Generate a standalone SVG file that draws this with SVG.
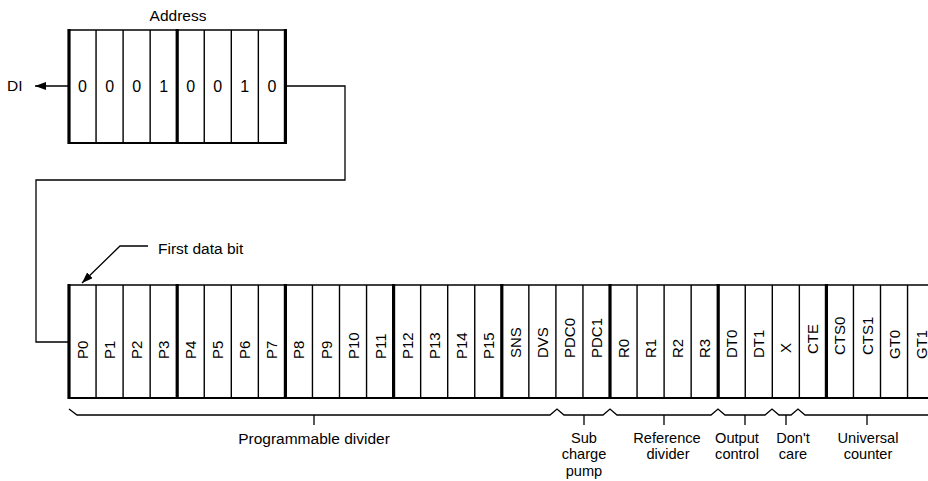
<svg xmlns="http://www.w3.org/2000/svg" width="928" height="481" viewBox="0 0 928 481">
<style>
text{font-family:"Liberation Sans",Arial,sans-serif;fill:#000}
.lbl{font-size:15.5px;text-anchor:middle}
.grp{font-size:14.6px;text-anchor:middle}
.dig{font-size:16px;text-anchor:middle}
.rot{font-size:15px}
.thin{stroke:#000;stroke-width:1.4;fill:none}
.thick{stroke:#000;stroke-width:3.2;fill:none}
.edge{stroke:#000;stroke-width:2;fill:none}
.wire{stroke:#000;stroke-width:1.3;fill:none}
</style>
<defs>
<marker id="ah" viewBox="0 0 11 8" refX="11" refY="4" markerWidth="11" markerHeight="8" markerUnits="userSpaceOnUse" orient="auto">
<path d="M0,0 L11,4 L0,8 Z" fill="#000"/>
</marker>
</defs>
<rect width="928" height="481" fill="#fff"/>

<g id="connectors">
<path class="wire" d="M286,86 H345 V180 H36 V342 H69"/>
<path class="wire" d="M69,86 H35" marker-end="url(#ah)"/>
<path class="wire" d="M148,246 H120 L82,283" marker-end="url(#ah)"/>
</g>

<g id="address-register">
<text class="lbl" x="178" y="21">Address</text>
<path class="thin" d="M69,30 H286"/>
<path class="edge" d="M69,143 H286"/>
<path class="thick" d="M69,29 V144 M177.2,29 V144 M285.4,29 V144"/>
<path class="thin" d="M96.05,30 V143 M123.1,30 V143 M150.15,30 V143 M204.25,30 V143 M231.3,30 V143 M258.35,30 V143"/>
<text class="dig" x="82.5" y="92">0</text>
<text class="dig" x="109.6" y="92">0</text>
<text class="dig" x="136.6" y="92">0</text>
<text class="dig" x="163.7" y="92">1</text>
<text class="dig" x="190.7" y="92">0</text>
<text class="dig" x="217.8" y="92">0</text>
<text class="dig" x="244.8" y="92">1</text>
<text class="dig" x="271.9" y="92">0</text>
</g>

<g id="di-label">
<text x="7" y="91" style="font-size:15.5px">DI</text>
</g>

<g id="first-data-bit-label">
<text x="158" y="254" style="font-size:15.5px">First data bit</text>
</g>

<g id="data-register">
<path class="thin" d="M69,285 H934"/>
<path class="edge" d="M69,398 H934"/>
<path class="thick" d="M69,284 V399 M177.2,284 V399 M285.4,284 V399 M393.6,284 V399 M501.8,284 V399 M610,284 V399 M718.2,284 V399 M826.4,284 V399"/>
<path class="thin" d="M96.05,285 V398 M123.1,285 V398 M150.15,285 V398 M204.25,285 V398 M231.3,285 V398 M258.35,285 V398 M312.45,285 V398 M339.5,285 V398 M366.55,285 V398 M420.65,285 V398 M447.7,285 V398 M474.75,285 V398 M528.85,285 V398 M555.9,285 V398 M582.95,285 V398 M637.05,285 V398 M664.1,285 V398 M691.15,285 V398 M745.25,285 V398 M772.3,285 V398 M799.35,285 V398 M853.45,285 V398 M880.5,285 V398 M907.55,285 V398"/>
<g class="rot">
<text transform="translate(88,359) rotate(-90)">P0</text>
<text transform="translate(115.1,359) rotate(-90)">P1</text>
<text transform="translate(142.1,359) rotate(-90)">P2</text>
<text transform="translate(169.2,359) rotate(-90)">P3</text>
<text transform="translate(196.2,359) rotate(-90)">P4</text>
<text transform="translate(223.3,359) rotate(-90)">P5</text>
<text transform="translate(250.3,359) rotate(-90)">P6</text>
<text transform="translate(277.4,359) rotate(-90)">P7</text>
<text transform="translate(304.4,359) rotate(-90)">P8</text>
<text transform="translate(331.5,359) rotate(-90)">P9</text>
<text transform="translate(358.5,359) rotate(-90)">P10</text>
<text transform="translate(385.6,359) rotate(-90)">P11</text>
<text transform="translate(412.6,359) rotate(-90)">P12</text>
<text transform="translate(439.7,359) rotate(-90)">P13</text>
<text transform="translate(466.7,359) rotate(-90)">P14</text>
<text transform="translate(493.8,359) rotate(-90)">P15</text>
<text transform="translate(520.8,358) rotate(-90)">SNS</text>
<text transform="translate(547.9,358) rotate(-90)">DVS</text>
<text transform="translate(574.9,358) rotate(-90)">PDC0</text>
<text transform="translate(602,358) rotate(-90)">PDC1</text>
<text transform="translate(629,358) rotate(-90)">R0</text>
<text transform="translate(656.1,358) rotate(-90)">R1</text>
<text transform="translate(683.1,358) rotate(-90)">R2</text>
<text transform="translate(710.2,358) rotate(-90)">R3</text>
<text transform="translate(737.2,358) rotate(-90)">DT0</text>
<text transform="translate(764.3,358) rotate(-90)">DT1</text>
<text transform="translate(791.3,353) rotate(-90)">X</text>
<text transform="translate(818.4,354) rotate(-90)">CTE</text>
<text transform="translate(845.4,355) rotate(-90)">CTS0</text>
<text transform="translate(872.5,355) rotate(-90)">CTS1</text>
<text transform="translate(899.5,359) rotate(-90)">GT0</text>
<text transform="translate(926.6,359) rotate(-90)">GT1</text>
</g>
</g>

<g id="braces">
<path class="wire" d="M69,409 L77,415 H550 L557,409 L564,415 H603 L610,409 L617,415 H711 L718,409 L725,415 H765 L772,409 L779,415 H791 L798,409 L805,415 H928"/>
<path class="wire" d="M314,415 V425 M584,415 V425 M664,415 V425 M745,415 V425 M786,415 V425 M867,415 V425"/>
</g>

<g id="group-labels">
<text class="lbl" x="314" y="444">Programmable divider</text>
<text class="grp" x="584" y="443">Sub<tspan x="584" dy="16.4">charge</tspan><tspan x="584" dy="16.4">pump</tspan></text>
<text class="grp" x="667" y="443">Reference<tspan x="668" dy="16.4">divider</tspan></text>
<text class="grp" x="737" y="443">Output<tspan x="737" dy="16.4">control</tspan></text>
<text class="grp" x="793" y="443">Don't<tspan x="793" dy="16.4">care</tspan></text>
<text class="grp" x="868" y="443">Universal<tspan x="868" dy="16.4">counter</tspan></text>
</g>
</svg>
